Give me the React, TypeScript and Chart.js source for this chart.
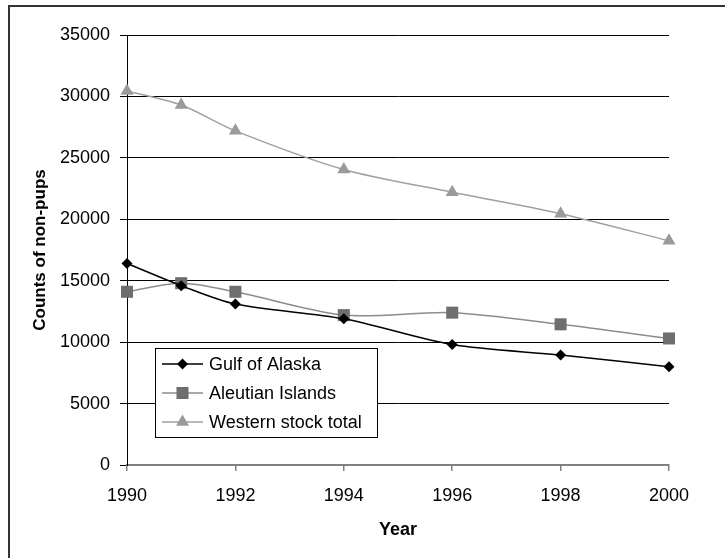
import React, { useEffect, useRef } from "react";
import { Chart, registerables } from "chart.js";

Chart.register(...registerables);

const years = [1990, 1991, 1992, 1994, 1996, 1998, 2000];
const gulfOfAlaska = [16400, 14600, 13100, 11900, 9800, 8950, 8000];
const aleutianIslands = [14100, 14800, 14100, 12200, 12400, 11450, 10300];
const westernStockTotal = [30450, 29300, 27200, 24050, 22200, 20450, 18250];
const seriesNames = ["Gulf of Alaska", "Aleutian Islands", "Western stock total"];
const yTicks = [0, 5000, 10000, 15000, 20000, 25000, 30000, 35000];
const xTicks = [1990, 1992, 1994, 1996, 1998, 2000];

const FONT = "'Liberation Sans', Arial, sans-serif";

function drawMarker(ctx: CanvasRenderingContext2D, style: string, x: number, y: number, r: number, color: string) {
  ctx.save();
  ctx.fillStyle = color;
  ctx.beginPath();
  if (style === "rectRot") {
    ctx.moveTo(x, y - r);
    ctx.lineTo(x + r, y);
    ctx.lineTo(x, y + r);
    ctx.lineTo(x - r, y);
    ctx.closePath();
  } else if (style === "rect") {
    const s = r * Math.SQRT1_2;
    ctx.rect(x - s, y - s, 2 * s, 2 * s);
  } else {
    ctx.moveTo(x, y - r);
    ctx.lineTo(x + r * 0.866, y + r * 0.5);
    ctx.lineTo(x - r * 0.866, y + r * 0.5);
    ctx.closePath();
  }
  ctx.fill();
  ctx.restore();
}

const framePlugin = {
  id: "frame",
  beforeDraw(chart: any) {
    const ctx = chart.ctx as CanvasRenderingContext2D;
    ctx.save();
    ctx.fillStyle = "#ffffff";
    ctx.fillRect(0, 0, chart.width, chart.height);
    ctx.strokeStyle = "#333333";
    ctx.lineWidth = 2;
    ctx.beginPath();
    ctx.moveTo(9, chart.height + 2);
    ctx.lineTo(9, 6);
    ctx.lineTo(chart.width + 2, 6);
    ctx.stroke();
    ctx.restore();
  },
};

const legendPlugin = {
  id: "innerLegend",
  afterDatasetsDraw(chart: any) {
    const ctx = chart.ctx as CanvasRenderingContext2D;
    const x0 = 155.5, y0 = 348.5, w = 222, h = 89;
    ctx.save();
    ctx.fillStyle = "#ffffff";
    ctx.fillRect(x0, y0, w, h);
    ctx.strokeStyle = "#000000";
    ctx.lineWidth = 1;
    ctx.strokeRect(x0, y0, w, h);
    ctx.font = `18px ${FONT}`;
    ctx.textBaseline = "middle";
    ctx.textAlign = "left";
    chart.data.datasets.forEach((ds: any, i: number) => {
      const y = 364 + i * 29;
      ctx.strokeStyle = ds.borderColor;
      ctx.lineWidth = 1.5;
      ctx.beginPath();
      ctx.moveTo(162, y);
      ctx.lineTo(203, y);
      ctx.stroke();
      drawMarker(ctx, ds.pointStyle, 182.5, y, ds.pointRadius, ds.pointBackgroundColor);
      ctx.fillStyle = "#000000";
      ctx.fillText(ds.label, 209, y + 1);
    });
    ctx.restore();
  },
};

export default function App() {
  const ref = useRef<HTMLCanvasElement>(null);
  useEffect(() => {
    if (!ref.current) return;
    const mk = (vals: number[]) => years.map((x, i) => ({ x, y: vals[i] }));
    const chart = new Chart(ref.current, {
      type: "line",
      data: {
        datasets: [
          {
            label: seriesNames[0],
            data: mk(gulfOfAlaska),
            borderColor: "#000000",
            backgroundColor: "#000000",
            pointBackgroundColor: "#000000",
            pointBorderColor: "#000000",
            pointStyle: "rectRot",
            pointRadius: 5.5,
            pointBorderWidth: 0,
            borderWidth: 1.5,
            tension: 0.3,
            clip: false,
          },
          {
            label: seriesNames[1],
            data: mk(aleutianIslands),
            borderColor: "#8c8c8c",
            backgroundColor: "#6e6e6e",
            pointBackgroundColor: "#6e6e6e",
            pointBorderColor: "#6e6e6e",
            pointStyle: "rect",
            pointRadius: 8.5,
            pointBorderWidth: 0,
            borderWidth: 1.5,
            tension: 0.3,
            clip: false,
          },
          {
            label: seriesNames[2],
            data: mk(westernStockTotal),
            borderColor: "#a0a0a0",
            backgroundColor: "#9a9a9a",
            pointBackgroundColor: "#9a9a9a",
            pointBorderColor: "#9a9a9a",
            pointStyle: "triangle",
            pointRadius: 7.5,
            pointBorderWidth: 0,
            borderWidth: 1.5,
            tension: 0.3,
            clip: false,
          },
        ] as any,
      },
      options: {
        animation: false,
        responsive: false,
        devicePixelRatio: 1,
        layout: { padding: { left: 0, top: 35, right: 56, bottom: 0 } },
        plugins: { legend: { display: false }, tooltip: { enabled: false } },
        scales: {
          x: {
            type: "linear",
            min: 1990,
            max: 2000,
            afterBuildTicks: (s: any) => { s.ticks = xTicks.map((v) => ({ value: v })); },
            afterFit: (s: any) => { s.height = 558 - 465; },
            ticks: {
              color: "#000000",
              font: { family: FONT, size: 18 },
              padding: 14,
              maxRotation: 0,
              callback: (v: any) => String(v),
            },
            grid: { drawOnChartArea: false, tickColor: "#808080", tickLength: 6, lineWidth: 1.5 },
            border: { color: "#808080", width: 2 },
            title: {
              display: true,
              text: "Year",
              color: "#000000",
              font: { family: FONT, size: 18, weight: "bold" },
              padding: { top: 0, bottom: 17 },
            },
          },
          y: {
            min: 0,
            max: 35000,
            afterBuildTicks: (s: any) => { s.ticks = yTicks.map((v) => ({ value: v })); },
            afterFit: (s: any) => { s.width = 127; },
            ticks: {
              color: "#000000",
              font: { family: FONT, size: 18 },
              padding: 10,
              callback: (v: any) => String(v),
            },
            grid: { color: "#000000", tickColor: "#000000", tickLength: 7, lineWidth: 1 },
            border: { color: "#000000", width: 1 },
            title: {
              display: true,
              text: "Counts of non-pups",
              color: "#000000",
              font: { family: FONT, size: 17, weight: "bold" },
              padding: { top: 30, bottom: 0 },
            },
          },
        },
      } as any,
      plugins: [framePlugin, legendPlugin],
    });
    return () => chart.destroy();
  }, []);
  return (
    <div style={{ position: "absolute", left: 0, top: 0, width: 725, height: 558 }}>
      <canvas ref={ref} width={725} height={558} style={{ display: "block", width: 725, height: 558 }} />
    </div>
  );
}
